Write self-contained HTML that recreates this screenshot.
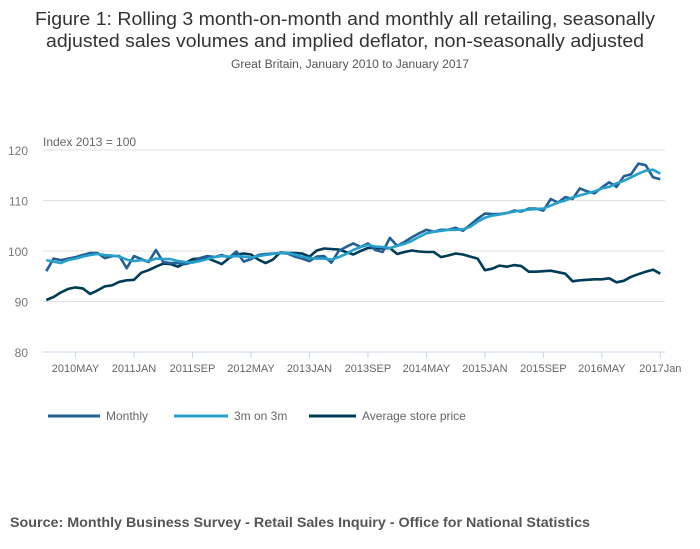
<!DOCTYPE html>
<html><head><meta charset="utf-8"><style>
body{margin:0;background:#fff}
svg{display:block;font-family:"Liberation Sans",sans-serif}
</style></head><body>
<svg id="chart" width="700" height="549">
<text x="345" y="25" font-size="18" fill="#333" text-anchor="middle" textLength="620" lengthAdjust="spacingAndGlyphs">Figure 1: Rolling 3 month-on-month and monthly all retailing, seasonally</text>
<text x="345" y="47" font-size="18" fill="#333" text-anchor="middle" textLength="598" lengthAdjust="spacingAndGlyphs">adjusted sales volumes and implied deflator, non-seasonally adjusted</text>
<text x="350" y="68" font-size="11.5" fill="#555" text-anchor="middle" textLength="238" lengthAdjust="spacingAndGlyphs">Great Britain, January 2010 to January 2017</text>
<text x="43" y="146" font-size="12" fill="#666">Index 2013 = 100</text>
<g id="grid"></g><g id="xaxis"></g><g id="series"></g>
<g>
<line x1="48" y1="416" x2="100" y2="416" stroke="#206095" stroke-width="3"/>
<text x="106" y="420" font-size="12" fill="#666">Monthly</text>
<line x1="174" y1="416" x2="228" y2="416" stroke="#27a0cc" stroke-width="3"/>
<text x="234" y="420" font-size="12" fill="#666">3m on 3m</text>
<line x1="309" y1="416" x2="356" y2="416" stroke="#003c57" stroke-width="3"/>
<text x="362" y="420" font-size="12" fill="#666">Average store price</text>
</g>
<text x="10" y="527" font-size="13.5" font-weight="bold" fill="#555" textLength="580" lengthAdjust="spacingAndGlyphs">Source: Monthly Business Survey - Retail Sales Inquiry - Office for National Statistics</text>
</svg>
<script>
const monthly=[96.0,98.5,98.2,98.5,98.8,99.2,99.6,99.6,98.6,99.0,99.0,96.6,99.0,98.4,97.8,100.2,97.8,97.6,97.6,97.4,97.8,98.6,99.0,98.8,99.2,98.7,99.9,97.9,98.4,99.2,99.4,99.5,99.6,99.5,98.9,98.5,98.0,98.9,99.0,97.7,100.0,100.8,101.5,100.8,101.5,100.2,99.8,102.6,101.0,101.8,102.7,103.5,104.2,103.8,104.2,104.2,104.6,104.0,105.2,106.4,107.4,107.3,107.3,107.5,108.0,107.8,108.4,108.4,108.0,110.3,109.6,110.7,110.3,112.4,111.8,111.4,112.6,113.6,112.7,114.8,115.2,117.3,117.0,114.6,114.2];
const threeMonth=[98.2,97.9,97.6,98.2,98.5,98.9,99.2,99.4,99.2,99.1,98.9,98.3,98.0,98.2,98.0,98.5,98.4,98.4,98.0,97.8,97.7,98.0,98.4,98.8,99.0,98.9,99.0,98.9,98.7,99.0,99.2,99.4,99.6,99.6,99.3,98.9,98.6,98.5,98.5,98.3,98.8,99.4,100.2,100.8,101.2,100.9,100.8,100.6,101.0,101.4,102.0,102.8,103.5,103.8,104.0,104.2,104.2,104.3,104.8,105.8,106.6,107.0,107.2,107.5,107.8,108.0,108.2,108.3,108.4,109.0,109.6,110.0,110.6,111.0,111.4,111.8,112.4,112.7,113.4,113.9,114.6,115.3,115.9,116.1,115.3];
const storePrice=[90.3,90.9,91.8,92.5,92.8,92.6,91.5,92.2,93.0,93.2,93.9,94.2,94.3,95.7,96.2,96.9,97.5,97.4,96.9,97.6,98.4,98.5,98.6,98.0,97.4,98.6,99.3,99.5,99.3,98.3,97.6,98.3,99.7,99.6,99.6,99.5,98.9,100.1,100.5,100.4,100.3,99.8,99.3,100.0,100.6,100.6,100.5,100.6,99.4,99.8,100.1,99.9,99.8,99.8,98.8,99.1,99.5,99.3,98.9,98.5,96.2,96.5,97.1,96.9,97.2,97.0,95.9,95.9,96.0,96.1,95.8,95.5,94.0,94.2,94.3,94.4,94.4,94.6,93.8,94.1,94.9,95.4,95.9,96.3,95.5];
const yTicks=[80,90,100,110,120];
const xTickLabels=["2010MAY","2011JAN","2011SEP","2012MAY","2013JAN","2013SEP","2014MAY","2015JAN","2015SEP","2016MAY","2017Jan"];
const xTickMonths=[4,12,20,28,36,44,52,60,68,76,84];
const NS="http://www.w3.org/2000/svg";
const X=m=>46.3+m*7.31;
const Y=v=>150+(120-v)*5.05;
function mk(tag,attrs,parent){const e=document.createElementNS(NS,tag);for(const k in attrs)e.setAttribute(k,attrs[k]);parent.appendChild(e);return e;}
const grid=document.getElementById('grid');
yTicks.forEach(t=>{
 const l=mk('line',{x1:43,x2:665,y1:Y(t),y2:Y(t),stroke:t===80?'#c8d6ea':'#e0e0e0','stroke-width':1},grid);
 
 
 const tx=mk('text',{x:28,y:Y(t)+5,'font-size':12,fill:'#777','text-anchor':'end'},grid);
 tx.textContent=t;
 
 
});
const xa=document.getElementById('xaxis');
xTickLabels.forEach((lab,i)=>{
 const x=X(xTickMonths[i]);
 const l=mk('line',{x1:x,x2:x,y1:Y(80),y2:Y(80)+6,stroke:'#c8d6ea'},xa);
 
 
 const t=mk('text',{x:x,y:Y(80)+20,'font-size':11,fill:'#666','text-anchor':'middle'},xa);
 t.textContent=lab;
 
 
});
const sg=document.getElementById('series');
[[storePrice,'#003c57','average-store-price-line'],[monthly,'#206095','monthly-line'],[threeMonth,'#27a0cc','3m-on-3m-line']].forEach(([d,c,n])=>{
 const p=mk('path',{d:d.map((v,i)=>(i?'L':'M')+X(i).toFixed(1)+','+Y(v).toFixed(1)).join(''),fill:'none',stroke:c,'stroke-width':2.6,'stroke-linejoin':'round'},sg);
 
 
});
</script>
</body></html>
